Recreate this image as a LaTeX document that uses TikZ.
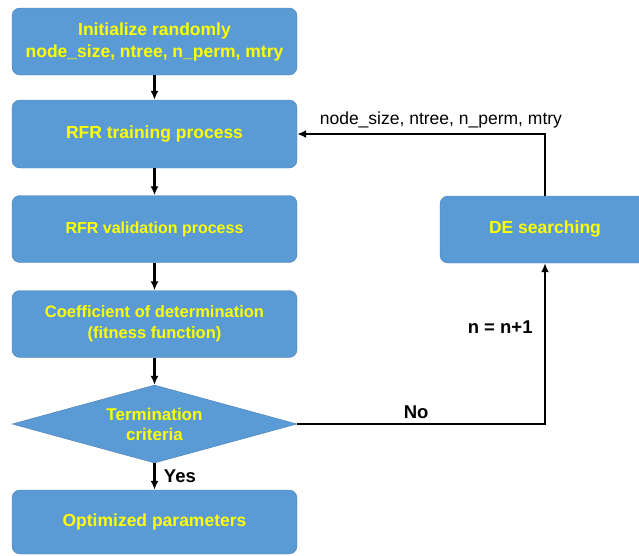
\documentclass[tikz,border=0pt]{standalone}
\usepackage{fontspec}
\setmainfont{Liberation Sans}
\usetikzlibrary{positioning,arrows.meta,shapes.geometric}
\definecolor{boxblue}{RGB}{91,155,213}
\definecolor{boxline}{RGB}{72,128,184}
\definecolor{txtyellow}{RGB}{255,255,0}
\tikzset{
  stepbox/.style={draw=boxline,fill=boxblue,rounded corners=8pt,minimum width=285pt,
    minimum height=67pt,inner sep=0pt,align=center,text=txtyellow,
    font=\fontsize{17.5}{22}\selectfont\bfseries},
  decide/.style={diamond,aspect=3.65,draw=boxline,fill=boxblue,minimum width=285pt,minimum height=78pt,
    inner sep=0pt,align=center,text=txtyellow,font=\fontsize{17}{20}\selectfont\bfseries},
  flow/.style={-{Latex[length=9pt,width=8pt]},line width=2.2pt},
  lbl/.style={font=\fontsize{18.5}{20}\selectfont\bfseries}
}

\begin{document}
\begin{tikzpicture}[x=1pt,y={(0pt,-1pt)}]
  \useasboundingbox (0,0) rectangle (639,555);
  % main column
  \node[stepbox] (init) at (154.5,41.5) {Initialize randomly\\node\_size, ntree, n\_perm, mtry};
  \node[stepbox,minimum height=68pt] (train) at (154.5,134) {RFR training process};
  \node[stepbox,font=\fontsize{16}{19}\selectfont\bfseries] (valid) at (154.5,229) {RFR validation process};
  \node[stepbox,font=\fontsize{16.5}{21}\selectfont\bfseries] (coef) at (154.5,324) {Coefficient of determination\\(fitness function)};
  \node[decide] (term) at (154.5,424) {Termination\\criteria};
  \node[stepbox,minimum height=64pt] (opt) at (154.5,522) {Optimized parameters};
  % search box on the right
  \node[stepbox,minimum width=210pt] (de) at (545,229.5) {DE searching};

  \draw[flow] (init) -- (train);
  \draw[flow] (train) -- (valid);
  \draw[flow] (valid) -- (coef);
  \draw[flow] (coef) -- (term);
  \draw[flow] (term) -- node[lbl,right=5pt] {Yes} (opt);
  \draw[flow] (term.east) -| node[lbl,pos=0.24,above=1pt] {No}
    node[lbl,pos=0.8,left=8pt] {n = n+1} (de.south);
  \draw[flow] (de.north) |- node[pos=0.71,above=1pt,font=\fontsize{17.5}{20}\selectfont]
    {node\_size, ntree, n\_perm, mtry} (train.east);
\end{tikzpicture}
\end{document}
